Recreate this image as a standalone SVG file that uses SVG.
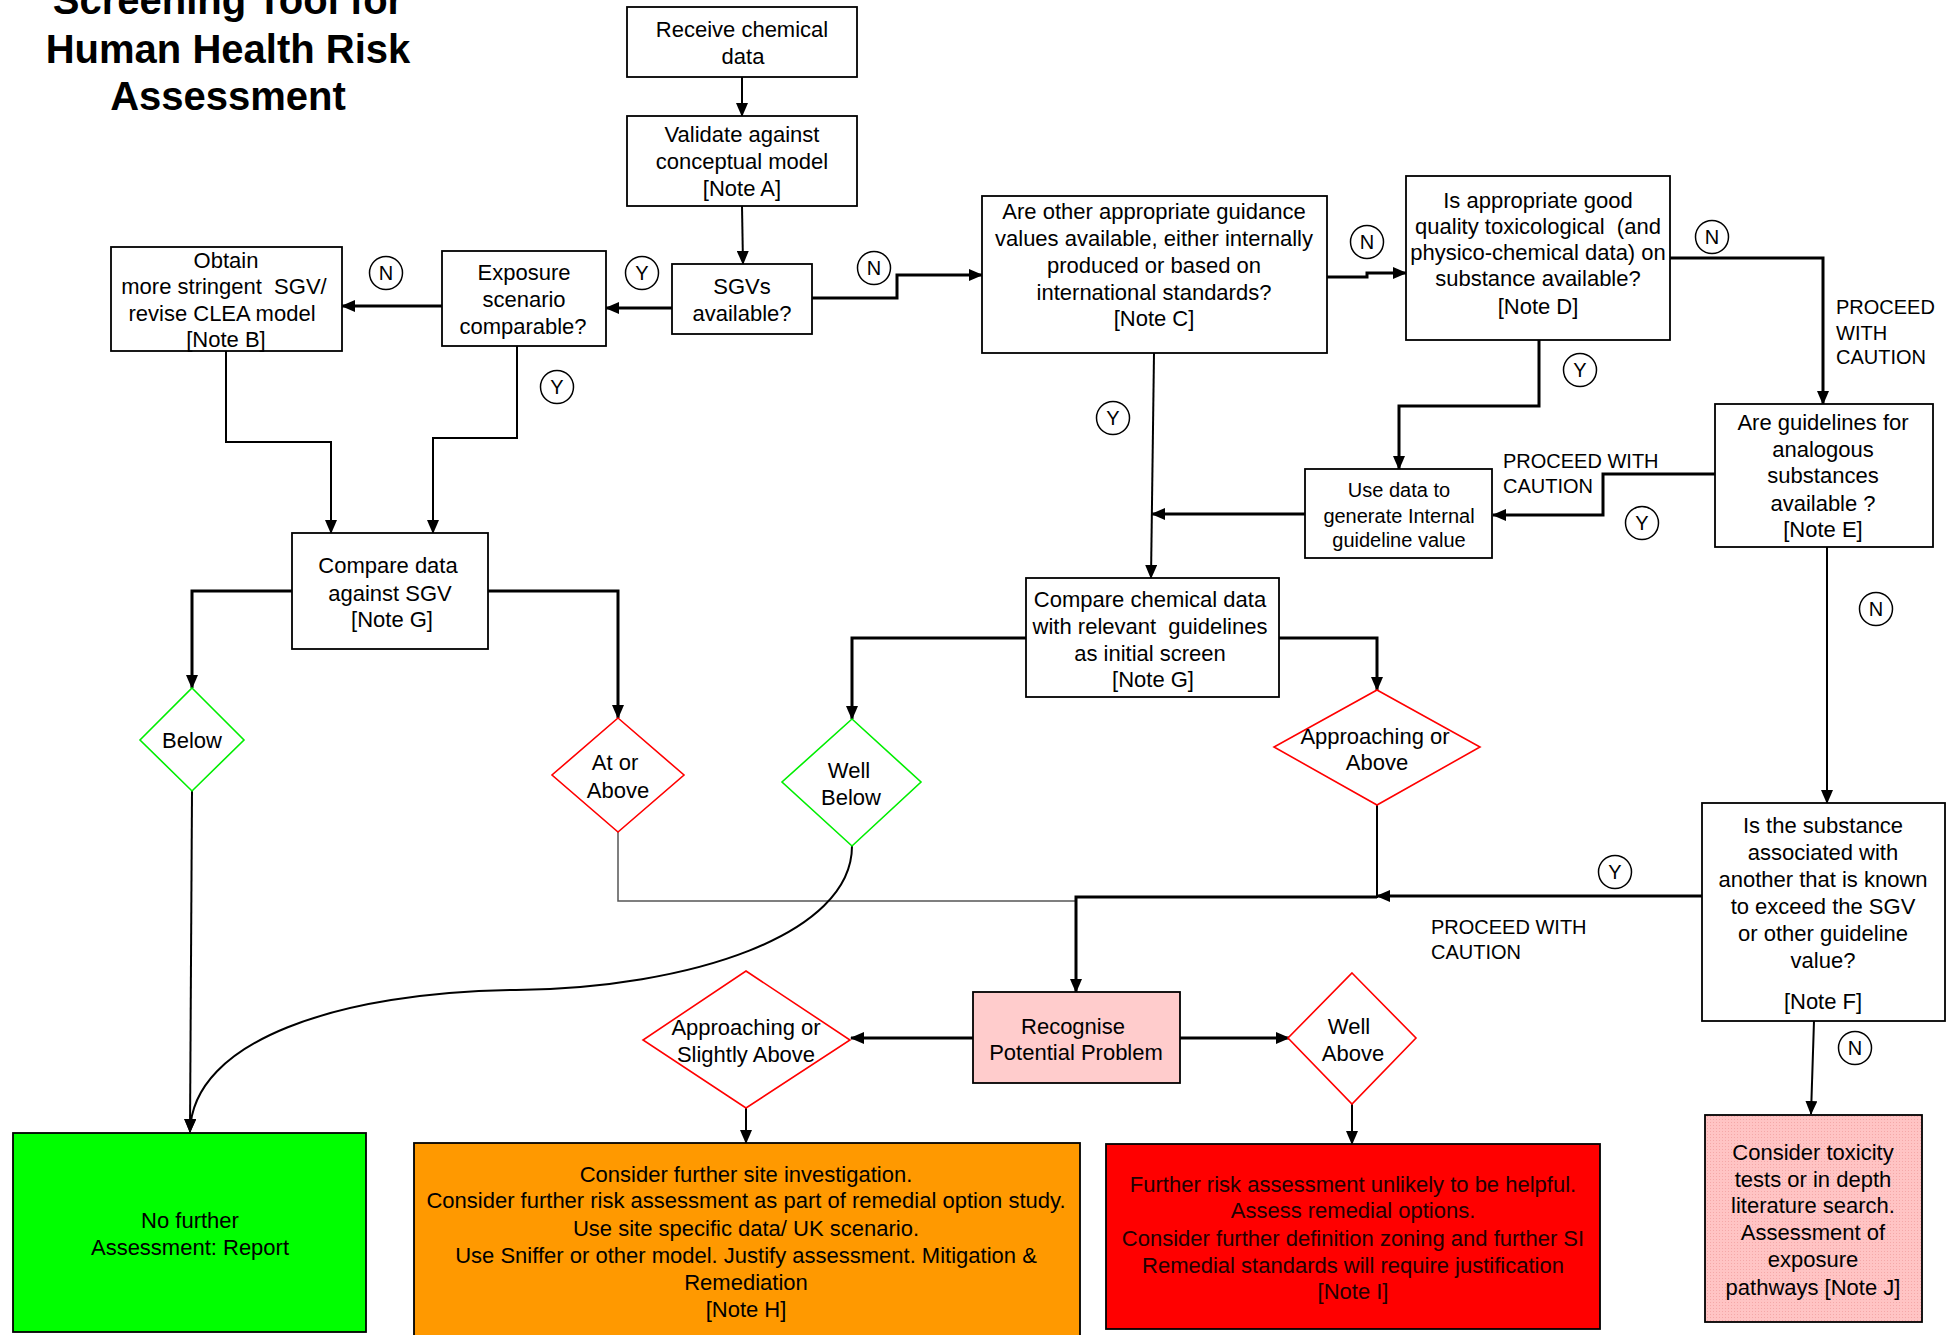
<svg xmlns="http://www.w3.org/2000/svg" width="1957" height="1335" viewBox="0 0 1957 1335">
<defs>
<style>
text{font-family:"Liberation Sans",Arial,sans-serif;font-size:22px;fill:#000;text-anchor:middle;white-space:pre}
.title{font-size:40px;font-weight:bold}
.sm{font-size:20px}
.lbl{font-size:20px;text-anchor:start}
.box{fill:#fff;stroke:#000;stroke-width:1.8}
.dg{fill:#fff;stroke:#00ee00;stroke-width:1.6}
.dr{fill:#fff;stroke:#ff0000;stroke-width:1.6}
.c{fill:none;stroke:#000;stroke-width:3}
.t{fill:none;stroke:#000;stroke-width:2}
.circ{fill:#fff;stroke:#000;stroke-width:1.5}
.redtxt{fill:#220000}
</style>
<marker id="ah" markerUnits="userSpaceOnUse" markerWidth="14" markerHeight="12" refX="13" refY="6" orient="auto">
<path d="M0,0 L14,6 L0,12 z" fill="#000"/>
</marker>
<pattern id="hatch" width="3" height="3" patternUnits="userSpaceOnUse">
<rect width="3" height="3" fill="#ffc4c4"/>
<rect width="1" height="1" fill="#f4a8a8"/>
</pattern>
</defs>
<rect width="1957" height="1335" fill="#fff"/>

<g id="title">
<text class="title" x="228" y="14">Screening Tool for</text>
<text class="title" x="228" y="63">Human Health Risk</text>
<text class="title" x="228" y="110">Assessment</text>
</g>

<g id="connectors">
<path class="t" d="M742,77 V116" marker-end="url(#ah)"/>
<path class="t" d="M742,206 L743,264" marker-end="url(#ah)"/>
<path class="c" d="M672,308 H606" marker-end="url(#ah)"/>
<path class="c" d="M442,306 H342" marker-end="url(#ah)"/>
<path class="c" d="M812,298 H897 V275 H982" marker-end="url(#ah)"/>
<path class="c" d="M1327,277 H1367 V273 H1406" marker-end="url(#ah)"/>
<path class="c" d="M1670,258 H1823 V404" marker-end="url(#ah)"/>
<path class="c" d="M1539,340 V406 H1399 V469" marker-end="url(#ah)"/>
<path class="c" d="M1715,474 H1603 V515 H1493" marker-end="url(#ah)"/>
<path class="c" d="M1305,514 H1152" marker-end="url(#ah)"/>
<path class="t" d="M1154,353 L1151,578" marker-end="url(#ah)"/>
<path class="t" d="M226,351 V442 H331 V533" marker-end="url(#ah)"/>
<path class="t" d="M517,346 V438 H433 V533" marker-end="url(#ah)"/>
<path class="c" d="M292,591 H192 V688" marker-end="url(#ah)"/>
<path class="c" d="M488,591 H618 V718" marker-end="url(#ah)"/>
<path class="c" d="M1026,638 H852 V719" marker-end="url(#ah)"/>
<path class="c" d="M1279,638 H1377 V690" marker-end="url(#ah)"/>
<path class="t" d="M1377,805 V898"/>
<path class="t" d="M1827,547 V803" marker-end="url(#ah)"/>
<path fill="none" stroke="#555" stroke-width="1.5" d="M618,822 V901 H1076"/>
<path class="c" d="M1702,896 H1377" marker-end="url(#ah)"/>
<path class="c" d="M1377,897 H1076 V992" marker-end="url(#ah)"/>
<path class="t" d="M852,846 C852,935 690,988 516,990 C340,992 192,1040 190,1132" stroke-width="2.5" marker-end="url(#ah)"/>
<path class="t" d="M192,791 L190,1132" marker-end="url(#ah)"/>
<path class="c" d="M973,1038 H851" marker-end="url(#ah)"/>
<path class="c" d="M1180,1038 H1289" marker-end="url(#ah)"/>
<path class="t" d="M746,1108 V1143" marker-end="url(#ah)"/>
<path class="t" d="M1352,1104 V1144" marker-end="url(#ah)"/>
<path class="t" d="M1814,1021 L1811,1114" marker-end="url(#ah)"/>
</g>

<g id="labels">
<circle class="circ" cx="386" cy="273" r="16.5"/><text class="sm" x="386" y="280">N</text>
<circle class="circ" cx="642" cy="273" r="16.5"/><text class="sm" x="642" y="280">Y</text>
<circle class="circ" cx="874" cy="268" r="16.5"/><text class="sm" x="874" y="275">N</text>
<circle class="circ" cx="557" cy="387" r="16.5"/><text class="sm" x="557" y="394">Y</text>
<circle class="circ" cx="1367" cy="242" r="16.5"/><text class="sm" x="1367" y="249">N</text>
<circle class="circ" cx="1712" cy="237" r="16.5"/><text class="sm" x="1712" y="244">N</text>
<circle class="circ" cx="1580" cy="370" r="16.5"/><text class="sm" x="1580" y="377">Y</text>
<circle class="circ" cx="1113" cy="418" r="16.5"/><text class="sm" x="1113" y="425">Y</text>
<circle class="circ" cx="1642" cy="523" r="16.5"/><text class="sm" x="1642" y="530">Y</text>
<circle class="circ" cx="1876" cy="609" r="16.5"/><text class="sm" x="1876" y="616">N</text>
<circle class="circ" cx="1615" cy="872" r="16.5"/><text class="sm" x="1615" y="879">Y</text>
<circle class="circ" cx="1855" cy="1048" r="16.5"/><text class="sm" x="1855" y="1055">N</text>
<text class="lbl" x="1836" y="314">PROCEED</text>
<text class="lbl" x="1836" y="340">WITH</text>
<text class="lbl" x="1836" y="364">CAUTION</text>
<text class="lbl" x="1503" y="468">PROCEED WITH</text>
<text class="lbl" x="1503" y="493">CAUTION</text>
<text class="lbl" x="1431" y="934">PROCEED WITH</text>
<text class="lbl" x="1431" y="959">CAUTION</text>
</g>

<g id="receive">
<rect class="box" x="627" y="7" width="230" height="70"/>
<text x="742" y="37">Receive chemical</text>
<text x="743" y="64">data</text>
</g>

<g id="validate">
<rect class="box" x="627" y="116" width="230" height="90"/>
<text x="742" y="142">Validate against</text>
<text x="742" y="169">conceptual model</text>
<text x="742" y="196">[Note A]</text>
</g>

<g id="sgvs">
<rect class="box" x="672" y="264" width="140" height="70"/>
<text x="742" y="294">SGVs</text>
<text x="742" y="321">available?</text>
</g>

<g id="exposure">
<rect class="box" x="442" y="251" width="164" height="95"/>
<text x="524" y="280">Exposure</text>
<text x="524" y="307">scenario</text>
<text x="523" y="334">comparable?</text>
</g>

<g id="obtain">
<rect class="box" x="111" y="247" width="231" height="104"/>
<text x="226" y="268">Obtain</text>
<text x="224" y="294">more stringent  SGV/</text>
<text x="222" y="321">revise CLEA model</text>
<text x="226" y="347">[Note B]</text>
</g>

<g id="other-guidance">
<rect class="box" x="982" y="196" width="345" height="157"/>
<text x="1154" y="219">Are other appropriate guidance</text>
<text x="1154" y="246">values available, either internally</text>
<text x="1154" y="273">produced or based on</text>
<text x="1154" y="300">international standards?</text>
<text x="1154" y="326">[Note C]</text>
</g>

<g id="toxdata">
<rect class="box" x="1406" y="176" width="264" height="164"/>
<text x="1538" y="208">Is appropriate good</text>
<text x="1538" y="234">quality toxicological  (and</text>
<text x="1538" y="260">physico-chemical data) on</text>
<text x="1538" y="286">substance available?</text>
<text x="1538" y="314">[Note D]</text>
</g>

<g id="analogous">
<rect class="box" x="1715" y="404" width="218" height="143"/>
<text x="1823" y="430">Are guidelines for</text>
<text x="1823" y="457">analogous</text>
<text x="1823" y="483">substances</text>
<text x="1823" y="511">available ?</text>
<text x="1823" y="537">[Note E]</text>
</g>

<g id="usedata">
<rect class="box" x="1305" y="469" width="187" height="89"/>
<text class="sm" x="1399" y="497">Use data to</text>
<text class="sm" x="1399" y="523">generate Internal</text>
<text class="sm" x="1399" y="547">guideline value</text>
</g>

<g id="compare-sgv">
<rect class="box" x="292" y="533" width="196" height="116"/>
<text x="388" y="573">Compare data</text>
<text x="390" y="601">against SGV</text>
<text x="392" y="627">[Note G]</text>
</g>

<g id="compare-chem">
<rect class="box" x="1026" y="578" width="253" height="119"/>
<text x="1150" y="607">Compare chemical data</text>
<text x="1150" y="634">with relevant  guidelines</text>
<text x="1150" y="661">as initial screen</text>
<text x="1153" y="687">[Note G]</text>
</g>

<g id="below">
<path class="dg" d="M192,688 L244,740 L192,791 L140,740 Z"/>
<text x="192" y="748">Below</text>
</g>

<g id="at-or-above">
<path class="dr" d="M618,718 L684,775 L618,832 L552,775 Z"/>
<text x="615" y="770">At or</text>
<text x="618" y="798">Above</text>
</g>

<g id="well-below">
<path class="dg" d="M852,719 L921,782 L852,846 L782,782 Z"/>
<text x="849" y="778">Well</text>
<text x="851" y="805">Below</text>
</g>

<g id="approaching-above">
<path class="dr" d="M1377,690 L1480,747 L1377,805 L1274,747 Z"/>
<text x="1375" y="744">Approaching or</text>
<text x="1377" y="770">Above</text>
</g>

<g id="substance-assoc">
<rect class="box" x="1702" y="803" width="243" height="218"/>
<text x="1823" y="833">Is the substance</text>
<text x="1823" y="860">associated with</text>
<text x="1823" y="887">another that is known</text>
<text x="1823" y="914">to exceed the SGV</text>
<text x="1823" y="941">or other guideline</text>
<text x="1823" y="968">value?</text>
<text x="1823" y="1009">[Note F]</text>
</g>

<g id="recognise">
<rect class="box" x="973" y="992" width="207" height="91" style="fill:#ffcccc"/>
<text x="1073" y="1034">Recognise</text>
<text x="1076" y="1060">Potential Problem</text>
</g>

<g id="approaching-slightly">
<path class="dr" d="M746,971 L850,1040 L746,1108 L643,1040 Z"/>
<text x="746" y="1035">Approaching or</text>
<text x="746" y="1062">Slightly Above</text>
</g>

<g id="well-above">
<path class="dr" d="M1352,973 L1416,1038 L1352,1104 L1288,1038 Z"/>
<text x="1349" y="1034">Well</text>
<text x="1353" y="1061">Above</text>
</g>

<g id="no-further">
<rect class="box" x="13" y="1133" width="353" height="199" style="fill:#00ff00"/>
<text x="190" y="1228">No further</text>
<text x="190" y="1255">Assessment: Report</text>
</g>

<g id="orange">
<rect class="box" x="414" y="1143" width="666" height="194" style="fill:#ff9900"/>
<text x="746" y="1182">Consider further site investigation.</text>
<text x="746" y="1208">Consider further risk assessment as part of remedial option study.</text>
<text x="746" y="1236">Use site specific data/ UK scenario.</text>
<text x="746" y="1263">Use Sniffer or other model. Justify assessment. Mitigation &amp;</text>
<text x="746" y="1290">Remediation</text>
<text x="746" y="1317">[Note H]</text>
</g>

<g id="red">
<rect class="box" x="1106" y="1144" width="494" height="185" style="fill:#ff0000"/>
<text class="redtxt" x="1353" y="1192">Further risk assessment unlikely to be helpful.</text>
<text class="redtxt" x="1353" y="1218">Assess remedial options.</text>
<text class="redtxt" x="1353" y="1246">Consider further definition zoning and further SI</text>
<text class="redtxt" x="1353" y="1273">Remedial standards will require justification</text>
<text class="redtxt" x="1353" y="1299">[Note I]</text>
</g>

<g id="toxicity">
<rect class="box" x="1705" y="1115" width="217" height="207" style="fill:url(#hatch)"/>
<text x="1813" y="1160">Consider toxicity</text>
<text x="1813" y="1187">tests or in depth</text>
<text x="1813" y="1213">literature search.</text>
<text x="1813" y="1240">Assessment of</text>
<text x="1813" y="1267">exposure</text>
<text x="1813" y="1295">pathways [Note J]</text>
</g>
</svg>
